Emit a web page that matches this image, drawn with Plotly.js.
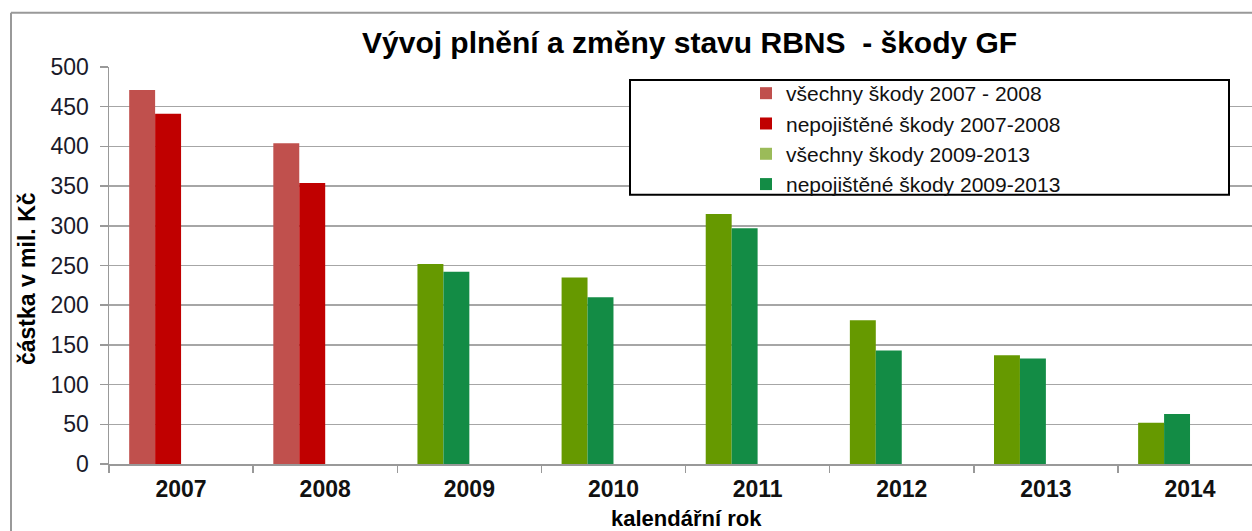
<!DOCTYPE html>
<html><head><meta charset="utf-8">
<script src="https://cdn.plot.ly/plotly-3.0.1.min.js"></script>
<style>html,body{margin:0;padding:0;background:#fff;}#chart{width:1252px;height:531px;}</style>
</head><body><div id="chart"></div>
<script>
const years = ['2007','2008','2009','2010','2011','2012','2013','2014'];
const allOld = [471, 404, null, null, null, null, null, null];
const uninsOld = [441, 354, null, null, null, null, null, null];
const allNew = [null, null, 252, 235, 315, 181, 137, 52];
const uninsNew = [null, null, 242, 210, 297, 143, 133, 63];
const names = ['všechny škody 2007 - 2008','nepojištěné škody 2007-2008','všechny škody 2009-2013','nepojištěné škody 2009-2013'];
const barColors = ['#C0504D','#C00000','#669900','#138C45'];
const legendColors = ['#C0504D','#C00000','#9BBB59','#138C45'];
const yTicks = [0,50,100,150,200,250,300,350,400,450,500];

const FONT = 'Arial, "Liberation Sans", sans-serif';
const series = [allOld, uninsOld, allNew, uninsNew];
const offsets = [-0.36, -0.18, -0.36, -0.18];
const traces = series.map((v,i)=>({
  type:'bar', x:years, y:v, name:names[i], showlegend:false,
  offset:offsets[i], width:0.18,
  marker:{color:barColors[i], line:{width:0}}, hoverinfo:'skip'
}));
names.forEach((n,i)=>traces.push({
  type:'bar', x:[years[0]], y:[null], name:n, showlegend:true,
  marker:{color:legendColors[i]}
}));

const pxX = p => (p-109)/1143;
const pxY = p => (464-p)/395;

const layout = {
  width:1252, height:531,
  margin:{l:109, r:0, t:67, b:67},
  paper_bgcolor:'#fff', plot_bgcolor:'#fff',
  font:{family:FONT, color:'#111'},
  barmode:'overlay',
  showlegend:true,
  xaxis:{type:'category', range:[-0.5, 7.43], tickson:'boundaries', ticks:'outside', ticklen:7, tickcolor:'#999', tickwidth:1.5,
    showline:true, linecolor:'#999', linewidth:1.5, showgrid:false, zeroline:false, ticklabelstandoff:4,
    tickfont:{family:FONT, size:23, color:'#111', weight:'bold'}, fixedrange:true},
  yaxis:{range:[0,500], tickvals:yTicks, ticks:'outside', ticklen:8, tickcolor:'#999', tickwidth:1.5,
    showline:true, linecolor:'#999', linewidth:1.5, showgrid:true, gridcolor:'#A6A6A6', gridwidth:1.5, zeroline:false,
    ticklabelstandoff:6,
    tickfont:{family:FONT, size:23, color:'#1a1a2a'}, fixedrange:true},
  legend:{x:pxX(746), y:pxY(75), xanchor:'left', yanchor:'top', bgcolor:'rgba(0,0,0,0)', borderwidth:0,
    font:{family:FONT, size:21, color:'#111'}, tracegroupgap:0, itemwidth:30},
  shapes:[
    {type:'rect', xref:'paper', yref:'paper', x0:pxX(630), x1:pxX(1229), y0:pxY(196), y1:pxY(82),
     fillcolor:'#fff', line:{color:'#000', width:2}, layer:'above'},
    {type:'line', xref:'paper', yref:'paper', x0:pxX(11), x1:pxX(11), y0:pxY(15), y1:pxY(540), line:{color:'#999', width:2}},
    {type:'line', xref:'paper', yref:'paper', x0:pxX(11), x1:pxX(1260), y0:pxY(15), y1:pxY(15), line:{color:'#999', width:2}}
  ],
  annotations:[
    {text:'Vývoj plnění a změny stavu RBNS  - škody GF', xref:'paper', yref:'paper', x:pxX(689), y:pxY(45),
     xanchor:'center', yanchor:'middle', showarrow:false, font:{family:FONT, size:30, color:'#000', weight:'bold'}},
    {text:'částka v mil. Kč', xref:'paper', yref:'paper', x:pxX(27), y:pxY(280), textangle:-90,
     xanchor:'center', yanchor:'middle', showarrow:false, font:{family:FONT, size:23, color:'#000', weight:'bold'}},
    {text:'kalendářní rok', xref:'paper', yref:'paper', x:pxX(686), y:pxY(518),
     xanchor:'center', yanchor:'middle', showarrow:false, font:{family:FONT, size:22, color:'#000', weight:'bold'}}
  ]
};
Plotly.newPlot('chart', traces, layout, {displayModeBar:false, staticPlot:true});
</script></body></html>
